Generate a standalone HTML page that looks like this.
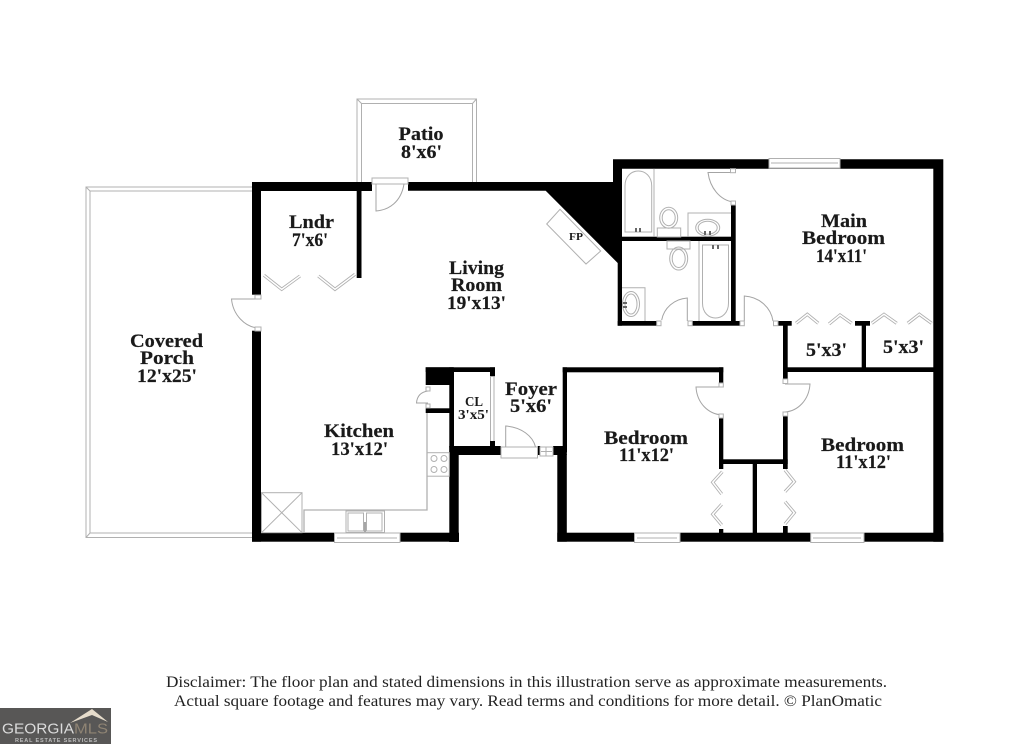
<!DOCTYPE html>
<html><head><meta charset="utf-8"><style>
html,body{margin:0;padding:0;background:#fff}
svg{display:block}
text{font-family:"Liberation Serif",serif;fill:#1a1a1a}
.l{font-weight:bold;font-size:18.5px;text-anchor:middle;stroke:#1a1a1a;stroke-width:.2}
.s{font-weight:bold;font-size:14px;text-anchor:middle}
.d{font-size:16px;fill:#222}
.g{fill:none;stroke:#b0b0b0;stroke-width:1}
.g2{fill:none;stroke:#a4a4a4;stroke-width:1}
.w{fill:#fff;stroke:#b0b0b0;stroke-width:1}
</style></head><body>
<svg width="1024" height="744" viewBox="0 0 1024 744" xmlns="http://www.w3.org/2000/svg">
<defs>
<g id="bf">
<polyline points="264,275.3 281.7,289.3 300,276"/>
<polyline points="318.3,276 335,289.3 355,274.3"/>
<polyline points="796,323.3 807.3,314.3 818.3,323.3"/>
<polyline points="829,324 840,315 851.7,323.3"/>
<polyline points="871.7,323.3 884,314.3 896.7,323.3"/>
<polyline points="907.7,323.3 919.3,314.3 931.7,323.3"/>
<polyline points="722.3,471.7 712.7,482.3 721.7,494"/>
<polyline points="721.7,504.3 712.7,514.3 721.7,525"/>
<polyline points="785,470 794.3,481.7 785,491.7"/>
<polyline points="785,501.7 794.3,512.7 785,524"/>
</g>
</defs>
<rect width="1024" height="744" fill="#fff"/>

<!-- patio and porch -->
<path class="g" d="M357 182V99H476.500V182M361.500 182V103.500H472.500V182M357 99L361.500 103.500M476.500 99L472.500 103.500" stroke-width="1.300"/>
<path class="g" d="M252 187H86V537.500H252M252 191H90V533H252M86 187L90 191M86 537.500L90 533" stroke-width="1.300"/>

<!-- walls -->
<g fill="#000">
<rect x="252" y="182" width="120" height="9"/>
<polygon points="408,182 613,182 613,159.300 943.300,159.300 943.300,541.700 933.300,541.700 933.300,168.700 622,168.700 622,263 617.700,263 545.700,190.700 408,190.700"/>
<rect x="557.300" y="532.700" width="386" height="9"/>
<rect x="557.300" y="454" width="9.500" height="87.700"/>
<rect x="553" y="446" width="13.800" height="9"/>
<rect x="252" y="182" width="9" height="112.700"/>
<rect x="252" y="330.700" width="9" height="211"/>
<rect x="252" y="532.700" width="207" height="9"/>
<rect x="449.300" y="446" width="9.400" height="96"/>
<rect x="356.700" y="190" width="4.800" height="88"/>
<rect x="617.700" y="240" width="4.300" height="85.700"/>
<rect x="622" y="236.700" width="112" height="4.300"/>
<rect x="617.700" y="321" width="39" height="4.700"/>
<rect x="692.300" y="321" width="47.700" height="4.700"/>
<rect x="731" y="205" width="4.700" height="118"/>
<rect x="778" y="321" width="13.700" height="4.700"/>
<rect x="855" y="321" width="15" height="4.700"/>
<rect x="783" y="321" width="4.700" height="58"/>
<rect x="861.700" y="321" width="4.300" height="47"/>
<rect x="783" y="367.300" width="152" height="4.700"/>
<rect x="562.700" y="367.300" width="160.600" height="5"/>
<rect x="562.700" y="367.300" width="4.300" height="85"/>
<rect x="719" y="367.300" width="4.300" height="16"/>
<rect x="719" y="418" width="4.300" height="51"/>
<rect x="719" y="459.300" width="68.700" height="4.700"/>
<rect x="783" y="416" width="4.700" height="53"/>
<rect x="752.700" y="462" width="4.300" height="72"/>
<rect x="719" y="529" width="4.300" height="5"/>
<rect x="783" y="526" width="4.700" height="8"/>
<rect x="425.700" y="367.300" width="27.600" height="17.700"/>
<rect x="425.700" y="367.300" width="69.300" height="4.700"/>
<rect x="490" y="367.300" width="5" height="9"/>
<rect x="449.300" y="367.300" width="4.700" height="80"/>
<rect x="425.700" y="408.300" width="25" height="4.700"/>
<rect x="449.300" y="446" width="51.400" height="9"/>
<rect x="490" y="441" width="5" height="6"/>
<rect x="537.700" y="446" width="2.500" height="9"/>
</g>

<!-- windows -->
<g>
<rect class="w" x="769" y="158.500" width="71" height="9.500"/><path class="g" d="M771 163H838"/>
<rect class="w" x="334.500" y="533" width="65.500" height="9.500"/><path class="g" d="M337 538H397"/>
<rect class="w" x="634.500" y="533" width="45.500" height="9.500"/><path class="g" d="M637 538H677"/>
<rect class="w" x="810.700" y="533" width="53.300" height="9.500"/><path class="g" d="M813 538H861"/>
<rect class="w" x="540" y="447" width="13" height="9"/><path class="g" d="M541 451.500H552M546 447V456"/>
</g>

<!-- doors -->
<g>
<rect class="w" x="372" y="178" width="36" height="6"/>
<path class="g2" d="M376 184V211C389 210 401 202 404 184"/>
<path class="g2" d="M261 299H231.500C233 315 245 327 258 328"/>
<rect class="w" x="255" y="295" width="6" height="4"/>
<rect class="w" x="255" y="327" width="6" height="4"/>
<path class="g2" d="M733 172.500H708C710 188 720 200 733 202"/>
<rect class="w" x="730.500" y="168.700" width="5" height="4"/>
<rect class="w" x="731" y="201" width="4.500" height="4"/>
<path class="g2" d="M687.300 321V298C674 299 664 308 661.700 320"/>
<rect class="w" x="656.700" y="321" width="4.300" height="4.700"/>
<rect class="w" x="688" y="321" width="4.300" height="4.700"/>
<path class="g2" d="M744.300 321V296C760 297 771 308 773 321"/>
<rect class="w" x="740" y="321" width="4.300" height="4.700"/>
<rect class="w" x="773.500" y="321" width="4.500" height="4.700"/>
<path class="g2" d="M722 387H696C697 403 708 414 722 415"/>
<rect class="w" x="719" y="383" width="4.300" height="4"/>
<rect class="w" x="719" y="414" width="4.300" height="4"/>
<path class="g2" d="M785 384H810C809 400 798 411 785 412"/>
<rect class="w" x="783" y="379" width="4.700" height="4.500"/>
<rect class="w" x="783" y="412" width="4.700" height="4"/>
<path class="g2" d="M428 403H416.500C417 396 421 392 428 391"/>
<rect class="w" x="426" y="387" width="4" height="4"/>
<rect class="w" x="426" y="404" width="4" height="4"/>
<rect class="w" x="501" y="447" width="36.500" height="11"/>
<path class="g2" d="M505.700 447V426C521 427 533 436 535.500 447"/>
<path class="g" d="M490.500 376V441M494 376V441"/>
</g>

<!-- bifold doors -->
<use href="#bf" fill="none" stroke="#b0b0b0" stroke-width="3.200"/>
<use href="#bf" fill="none" stroke="#fff" stroke-width="1.500"/>

<!-- bath fixtures -->
<g class="g">
<path d="M654 168.700V236.700"/>
<path d="M625 232V186C625 166 651.700 166 651.700 186V232Z"/>
<ellipse cx="668.700" cy="217.700" rx="9" ry="10.500"/>
<ellipse cx="668.700" cy="217.700" rx="6.500" ry="8"/>
<rect x="657.300" y="228" width="23.400" height="9"/>
<path d="M688 236.700V213H731"/>
<ellipse cx="707.700" cy="227.700" rx="12" ry="8.500"/>
<ellipse cx="707.700" cy="227.700" rx="9.500" ry="6.500"/>
<rect x="667" y="241" width="23" height="8"/>
<ellipse cx="678.700" cy="258.500" rx="9" ry="11.500"/>
<ellipse cx="678.700" cy="258.500" rx="6.500" ry="9"/>
<path d="M699 241V321"/>
<path d="M702.500 245H728.500V303C728.500 323 702.500 323 702.500 303Z"/>
<path d="M622 287.700H645V321"/>
<ellipse cx="631" cy="304" rx="8.500" ry="12.500"/>
<ellipse cx="631" cy="304" rx="6" ry="10"/>
<polygon points="546.700,224 560,209.300 600.700,251 586,264"/>
</g>
<g fill="#666">
<rect x="635" y="228" width="2" height="4"/><rect x="639" y="228" width="2" height="4"/>
<rect x="704" y="231" width="2" height="4"/><rect x="709" y="231" width="2" height="4"/>
<rect x="712" y="245" width="2" height="4"/><rect x="717" y="245" width="2" height="4"/>
<rect x="623" y="302" width="4" height="2"/><rect x="623" y="306" width="4" height="2"/>
</g>

<!-- kitchen -->
<g class="g">
<path d="M427 413V510H304V533" stroke-width="1.300"/>
<rect x="427" y="452.700" width="22.300" height="23.500"/>
<circle cx="434" cy="458.500" r="3"/><circle cx="444" cy="458.500" r="3"/>
<circle cx="434" cy="469.500" r="3"/><circle cx="444" cy="469.500" r="3"/>
<rect x="346" y="511" width="38.500" height="21.500"/>
<rect x="348" y="513" width="15.500" height="18"/>
<rect x="366.500" y="513" width="15.500" height="18"/>
<rect x="261.500" y="492.700" width="40.500" height="40"/>
<path d="M261.500 492.700L302 532.700M302 492.700L261.500 532.700"/>
</g>
<path d="M365 532V522" stroke="#888" stroke-width="1.500"/>

<!-- labels -->
<text class="l" x="421" y="140" textLength="45" lengthAdjust="spacingAndGlyphs">Patio</text>
<text class="l" x="421.500" y="158" textLength="41" lengthAdjust="spacingAndGlyphs">8'x6'</text>
<text class="l" x="311.500" y="228" textLength="45" lengthAdjust="spacingAndGlyphs">Lndr</text>
<text class="l" x="310" y="246" textLength="36" lengthAdjust="spacingAndGlyphs">7'x6'</text>
<text class="l" x="166.500" y="347" textLength="73" lengthAdjust="spacingAndGlyphs">Covered</text>
<text class="l" x="167" y="364" textLength="54" lengthAdjust="spacingAndGlyphs">Porch</text>
<text class="l" x="167" y="382" textLength="60" lengthAdjust="spacingAndGlyphs">12'x25'</text>
<text class="l" x="476.500" y="274" textLength="55" lengthAdjust="spacingAndGlyphs">Living</text>
<text class="l" x="476.500" y="291" textLength="51" lengthAdjust="spacingAndGlyphs">Room</text>
<text class="l" x="476.500" y="309" textLength="59" lengthAdjust="spacingAndGlyphs">19'x13'</text>
<text class="l" x="844" y="227" textLength="46" lengthAdjust="spacingAndGlyphs">Main</text>
<text class="l" x="843.500" y="244" textLength="83" lengthAdjust="spacingAndGlyphs">Bedroom</text>
<text class="l" x="841.500" y="262" textLength="51" lengthAdjust="spacingAndGlyphs">14'x11'</text>
<text class="l" x="826.500" y="356" textLength="41" lengthAdjust="spacingAndGlyphs">5'x3'</text>
<text class="l" x="903.500" y="353" textLength="41" lengthAdjust="spacingAndGlyphs">5'x3'</text>
<text class="l" x="359" y="437" textLength="70" lengthAdjust="spacingAndGlyphs">Kitchen</text>
<text class="l" x="359.500" y="455" textLength="57" lengthAdjust="spacingAndGlyphs">13'x12'</text>
<text class="l" x="531" y="395" textLength="52" lengthAdjust="spacingAndGlyphs">Foyer</text>
<text class="l" x="531" y="412" textLength="42" lengthAdjust="spacingAndGlyphs">5'x6'</text>
<text class="s" x="474" y="406" textLength="18" lengthAdjust="spacingAndGlyphs">CL</text>
<text class="s" x="473.500" y="419" textLength="31" lengthAdjust="spacingAndGlyphs">3'x5'</text>
<text class="s" x="576" y="240" style="font-size:11px" textLength="14" lengthAdjust="spacingAndGlyphs">FP</text>
<text class="l" x="646" y="444" textLength="84" lengthAdjust="spacingAndGlyphs">Bedroom</text>
<text class="l" x="646.500" y="461" textLength="55" lengthAdjust="spacingAndGlyphs">11'x12'</text>
<text class="l" x="862.500" y="451" textLength="83" lengthAdjust="spacingAndGlyphs">Bedroom</text>
<text class="l" x="863.500" y="468" textLength="55" lengthAdjust="spacingAndGlyphs">11'x12'</text>

<!-- disclaimer -->
<text class="d" x="166" y="687" textLength="721" lengthAdjust="spacingAndGlyphs">Disclaimer: The floor plan and stated dimensions in this illustration serve as approximate measurements.</text>
<text class="d" x="174" y="706" textLength="708" lengthAdjust="spacingAndGlyphs">Actual square footage and features may vary. Read terms and conditions for more detail. © PlanOmatic</text>

<!-- logo -->
<rect x="0" y="708" width="111" height="36" fill="#585756"/>
<polygon points="70,723 92,709 108,722 92,715" fill="#e6dccb"/>
<text x="2" y="733.500" textLength="72" lengthAdjust="spacingAndGlyphs" style="font-family:'Liberation Sans',sans-serif;font-size:14.500px;fill:#dcdcdc">GEORGIA</text>
<text x="74" y="733.500" textLength="34" lengthAdjust="spacingAndGlyphs" style="font-family:'Liberation Sans',sans-serif;font-size:14.500px;fill:#8f8474">MLS</text>
<text x="15" y="742" textLength="82" lengthAdjust="spacing" style="font-family:'Liberation Sans',sans-serif;font-size:5.500px;font-weight:bold;fill:#bdbdbd">REAL ESTATE SERVICES</text>
</svg>
</body></html>
